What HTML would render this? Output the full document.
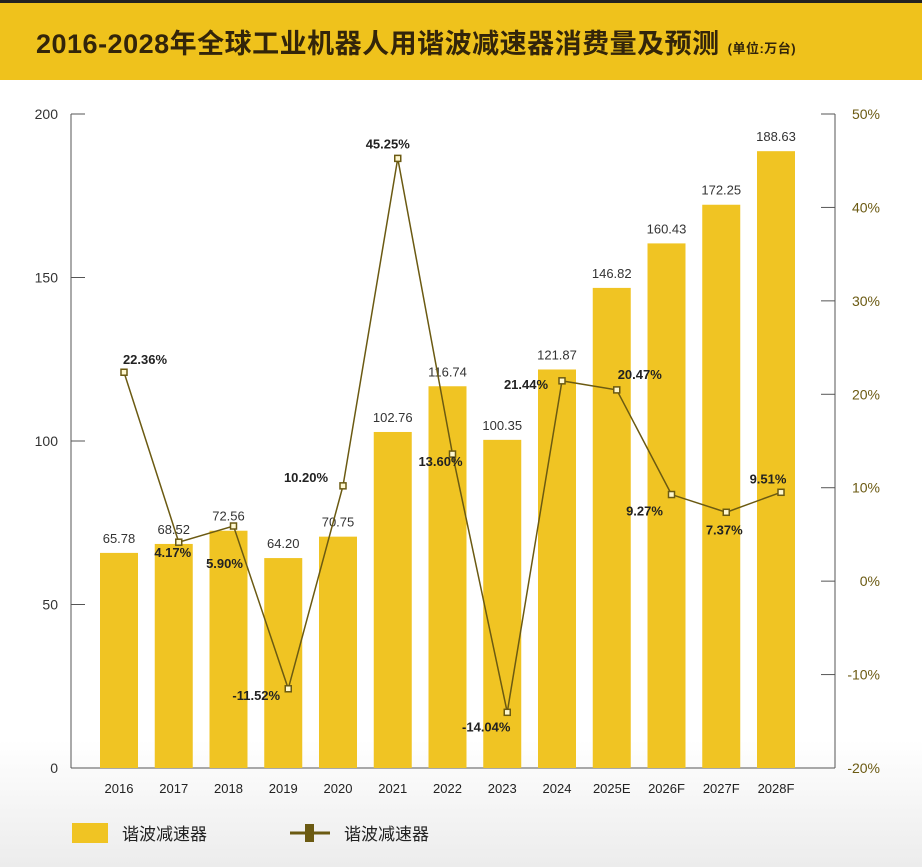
<!DOCTYPE html>
<html><head><meta charset="utf-8"><style>
body{margin:0;width:922px;height:867px;overflow:hidden;font-family:"Liberation Sans","Noto Sans CJK SC",sans-serif;background:linear-gradient(#fff 0,#fff 740px,#ececec 867px);}
#band{position:absolute;left:0;top:0;width:922px;height:80px;background:#efc21c;border-top:3px solid #222;box-sizing:border-box;}
#title{position:absolute;left:36px;top:22px;font-size:27px;font-weight:bold;color:#33250a;letter-spacing:0.5px;white-space:nowrap;}
#title small{font-size:13px;}
svg{position:absolute;left:0;top:0;}
</style></head><body>
<div id="band"></div>
<div id="title">2016-2028年全球工业机器人用谐波减速器消费量及预测 <small>(单位:万台)</small></div>
<svg id="c" width="922" height="867"></svg>
<script>
const categories=["2016","2017","2018","2019","2020","2021","2022","2023","2024","2025E","2026F","2027F","2028F"];
const volumes=[65.78,68.52,72.56,64.20,70.75,102.76,116.74,100.35,121.87,146.82,160.43,172.25,188.63];
const growth=[22.36,4.17,5.90,-11.52,10.20,45.25,13.60,-14.04,21.44,20.47,9.27,7.37,9.51];
const leftTicks=[0,50,100,150,200];
const rightTicks=[-20,-10,0,10,20,30,40,50];
const labelDx=[21,-6,-9,-32,-37,-10,-12,-21,-36,23,-27,-2,-13];
const labelDy=[-13,10,37,6,-9,-15,7,14,3,-16,16,17,-14];
const NS="http://www.w3.org/2000/svg";
const svg=document.getElementById('c');
function mk(t,a,txt){const e=document.createElementNS(NS,t);for(const k in a)e.setAttribute(k,a[k]);if(txt!==undefined)e.textContent=txt;svg.appendChild(e);return e;}
const y0=768,yTop=114,x0=71,x1=835;
const yL=v=>y0-(v/200)*(y0-yTop);
const yR=v=>y0-((v+20)/70)*(y0-yTop);
const xC=i=>119+i*54.75;
let e=mk('line',{x1:x0,y1:yTop,x2:x0,y2:y0,stroke:'#555','stroke-width':1});

e=mk('line',{x1:x1,y1:yTop,x2:x1,y2:y0,stroke:'#555','stroke-width':1});

e=mk('line',{x1:x0,y1:y0,x2:x1,y2:y0,stroke:'#555','stroke-width':1});

leftTicks.forEach(v=>{const y=yL(v);
 mk('line',{x1:x0,y1:y,x2:x0+14,y2:y,stroke:'#555'});
 const t=mk('text',{x:58,y:y+5,'text-anchor':'end','font-size':14,fill:'#333'},String(v));
 });
rightTicks.forEach(v=>{const y=yR(v);
 mk('line',{x1:x1-14,y1:y,x2:x1,y2:y,stroke:'#555'});
 const t=mk('text',{x:880,y:y+5,'text-anchor':'end','font-size':14,fill:'#6b5a12'},v+'%');
 });
volumes.forEach((v,i)=>{const x=xC(i),y=yL(v);
 const r=mk('rect',{x:x-19,y:y,width:38,height:y0-y,fill:'#f0c423'});
 
 const t=mk('text',{x:x,y:y-10,'text-anchor':'middle','font-size':13,fill:'#333'},v.toFixed(2));
 
 const c=mk('text',{x:x,y:793,'text-anchor':'middle','font-size':13,fill:'#222'},categories[i]);
 });
const pts=growth.map((g,i)=>[xC(i)+5,yR(g)]);
e=mk('polyline',{points:pts.map(p=>p.join(',')).join(' '),fill:'none',stroke:'#6b5a12','stroke-width':1.5});

pts.forEach((p,i)=>{
 const m=mk('rect',{x:p[0]-3,y:p[1]-3,width:6,height:6,fill:'#fff8d0',stroke:'#6b5a12','stroke-width':1.5});
 
 const t=mk('text',{x:p[0]+labelDx[i],y:p[1]+labelDy[i]+5,'text-anchor':'middle','font-size':13,'font-weight':'bold',fill:'#222'},growth[i].toFixed(2)+'%');
 });
e=mk('rect',{x:72,y:823,width:36,height:20,fill:'#f0c423'});

e=mk('text',{x:122,y:840,'font-size':17,fill:'#222'},'谐波减速器');

e=mk('line',{x1:290,y1:833,x2:330,y2:833,stroke:'#6b5a12','stroke-width':3});

mk('rect',{x:305,y:824,width:9,height:18,fill:'#6b5a12'});
e=mk('text',{x:344,y:840,'font-size':17,fill:'#222'},'谐波减速器');

</script>
</body></html>
